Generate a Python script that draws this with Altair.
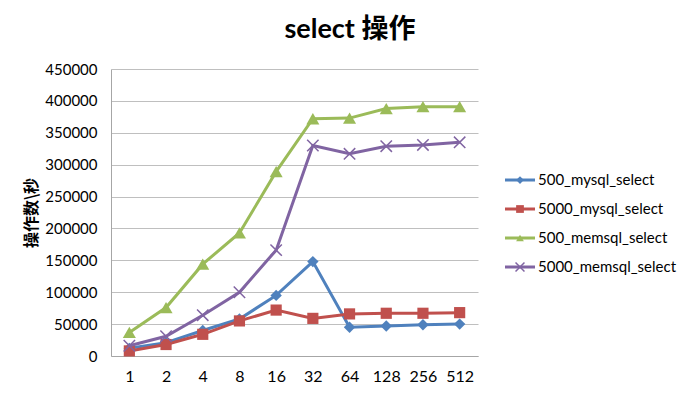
import altair as alt
import pandas as pd

categories = ["1", "2", "4", "8", "16", "32", "64", "128", "256", "512"]
series_names = ["500_mysql_select", "5000_mysql_select", "500_memsql_select", "5000_memsql_select"]
mysql_500 = [12000, 21000, 40000, 58000, 95000, 148000, 45000, 47000, 49000, 50000]
mysql_5000 = [8000, 18000, 34000, 55000, 72000, 59000, 66000, 67000, 67000, 68000]
memsql_500 = [37000, 76000, 144000, 193000, 289000, 372000, 373000, 388000, 391000, 391000]
memsql_5000 = [16000, 31000, 64000, 100000, 166000, 330000, 317000, 329000, 331000, 335000]
y_ticks = [0, 50000, 100000, 150000, 200000, 250000, 300000, 350000, 400000, 450000]

colors = ["#4F81BD", "#C0504D", "#9BBB59", "#8064A2"]
shapes = ["diamond", "square", "triangle-up", "M-1,-1L1,1M-1,1L1,-1"]
sizes = [130, 125, 170, 130]

values = [mysql_500, mysql_5000, memsql_500, memsql_5000]
rows = []
for name, vals in zip(series_names, values):
    for c, v in zip(categories, vals):
        rows.append({"threads": c, "ops": v, "series": name})
df = pd.DataFrame(rows)

FONT = "Lato, Noto Sans CJK SC"

x_enc = alt.X("threads:N", sort=categories, title=None,
              axis=alt.Axis(labelAngle=0, ticks=False, labelPadding=12, labelFontSize=16,
                            labelFont=FONT, labelColor="#000000", domainColor="#A6A6A6",
                            grid=False))
y_enc = alt.Y("ops:Q", title="操作数\\秒",
              scale=alt.Scale(domain=[0, 450000], nice=False),
              axis=alt.Axis(values=y_ticks, format="d", ticks=False, labelPadding=14,
                            labelFontSize=15, labelFont=FONT, labelColor="#000000",
                            domainColor="#A6A6A6", gridColor="#BFBFBF",
                            titleFont="Noto Sans CJK SC", titleFontSize=16,
                            titleFontWeight="bold", titleColor="#000000", titlePadding=5))

layers = []
for name, col, shp, sz in zip(series_names, colors, shapes, sizes):
    base = alt.Chart(df).transform_filter(alt.datum.series == name)
    line = base.mark_line(color=col, strokeWidth=3).encode(x=x_enc, y=y_enc)
    if shp.startswith("M"):
        pts = base.mark_point(shape=shp, filled=False, color=col, stroke=col,
                              strokeWidth=1.5, size=sz, opacity=1).encode(x=x_enc, y=y_enc)
    else:
        pts = base.mark_point(shape=shp, filled=True, color=col, size=sz,
                              opacity=1).encode(x=x_enc, y=y_enc)
    layers += [line, pts]

main = alt.layer(*layers).properties(width=367, height=287)

# Custom legend panel (line + marker + label), positioned through its own scale
leg_df = pd.DataFrame({"series": series_names, "row": list(range(len(series_names)))})
ly = alt.Y("row:Q", scale=alt.Scale(domain=[-3.828, 6.069], reverse=True), axis=None)
leg_layers = []
for i, (name, col, shp, sz) in enumerate(zip(series_names, colors, shapes, sizes)):
    b = alt.Chart(leg_df).transform_filter(alt.datum.row == i)
    leg_layers.append(b.mark_rule(color=col, strokeWidth=3).encode(
        x=alt.value(0), x2=alt.value(30), y=ly))
    if shp.startswith("M"):
        leg_layers.append(b.mark_point(shape=shp, filled=False, color=col, strokeWidth=1.5,
                                       size=80, opacity=1).encode(x=alt.value(15), y=ly))
    else:
        leg_layers.append(b.mark_point(shape=shp, filled=True, color=col, size=60,
                                       opacity=1).encode(x=alt.value(15), y=ly))
    leg_layers.append(b.mark_text(align="left", baseline="middle", font=FONT, fontSize=15,
                                  color="#000000").encode(x=alt.value(33), y=ly,
                                                          text="series:N"))
legend = alt.layer(*leg_layers).properties(width=170, height=287)

chart = alt.hconcat(main, legend, spacing=25).properties(
    title=alt.TitleParams("select 操作", font=FONT, fontSize=27, fontWeight="bold",
                          color="#000000", anchor="middle", offset=18),
    padding={"left": 23, "top": 16, "right": 5, "bottom": 5},
).configure_view(stroke=None).configure_axis(
    domainWidth=1
)

chart.save("out.html", embed_options={"renderer": "svg", "actions": False})
